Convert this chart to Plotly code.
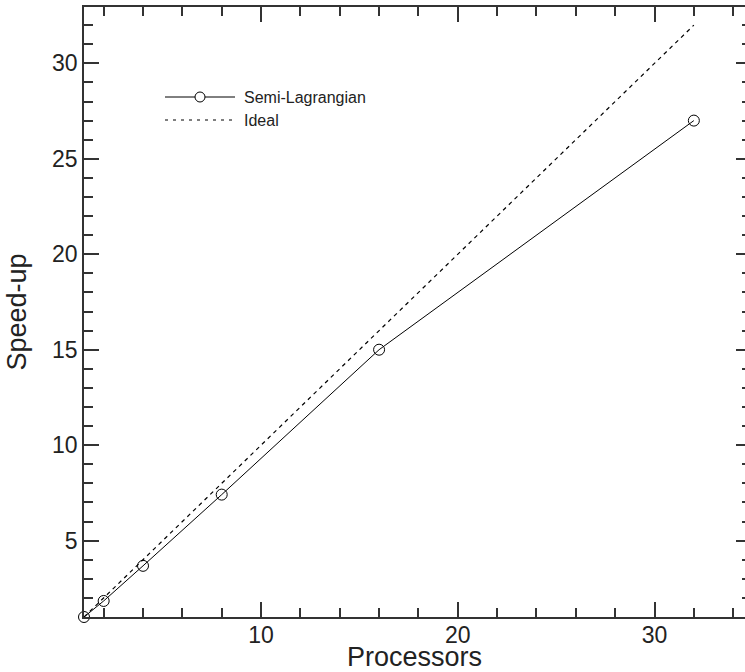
import plotly.graph_objects as go

# Parallel speed-up measurements
processors = [1, 2, 4, 8, 16, 32]
speedup_semi_lagrangian = [1.0, 1.84, 3.68, 7.41, 15.0, 27.0]
ideal_x = [1, 32]
ideal_y = [1, 32]

x_tickvals = [10, 20, 30]
y_tickvals = [5, 10, 15, 20, 25, 30]

FONT = "Liberation Sans, Arial, Helvetica, sans-serif"
INK = "#222222"
AXC = "#333333"
Y_RANGE = [1, 32.95]

fig = go.Figure()

fig.add_trace(go.Scatter(
    x=ideal_x, y=ideal_y, mode="lines", name="Ideal",
    line=dict(color="black", width=1.2, dash="4px,4px"),
    showlegend=False, cliponaxis=False,
))
fig.add_trace(go.Scatter(
    x=processors, y=speedup_semi_lagrangian, mode="lines+markers",
    name="Semi-Lagrangian",
    line=dict(color="black", width=1),
    marker=dict(symbol="circle-open", size=11, color="black", line=dict(width=1)),
    showlegend=False, cliponaxis=False,
))
# invisible helper trace that activates the right-hand tick axis
fig.add_trace(go.Scatter(x=[None], y=[None], yaxis="y2", showlegend=False,
                         hoverinfo="skip"))

tickfont = dict(family=FONT, size=23, color=INK)
titlefont = dict(family=FONT, size=27, color=INK)

fig.update_xaxes(
    range=[1, 34.6], tickvals=x_tickvals, automargin=False,
    showline=True, linecolor=AXC, linewidth=1.5, mirror="ticks",
    ticks="inside", tickcolor=AXC, tickwidth=1.5, ticklen=15,
    ticklabelstandoff=-3,
    showgrid=False, zeroline=False, tickfont=tickfont,
    minor=dict(ticks="inside", ticklen=9, dtick=2, tick0=0,
               tickcolor=AXC, tickwidth=1.5, showgrid=False),
    title=dict(text="Processors", font=titlefont, standoff=4),
)
fig.update_yaxes(
    range=Y_RANGE, tickvals=y_tickvals, automargin=False,
    showline=True, linecolor=AXC, linewidth=1.5, mirror=False,
    ticks="inside", tickcolor=AXC, tickwidth=1.5, ticklen=15,
    showgrid=False, zeroline=False, tickfont=tickfont,
    minor=dict(ticks="inside", ticklen=9, dtick=1, tick0=0,
               tickcolor=AXC, tickwidth=1.5, showgrid=False),
    title=dict(text="Speed-up", font=titlefont, standoff=18),
)

# Hand-drawn legend in the upper-left corner
legend_shapes = [
    dict(type="line", xref="paper", yref="paper",
         x0=(165 - 84) / 661, x1=(235 - 84) / 661,
         y0=(617 - 97) / 610, y1=(617 - 97) / 610,
         line=dict(color="black", width=1)),
    dict(type="circle", xref="paper", yref="paper",
         x0=(200 - 84 - 5) / 661, x1=(200 - 84 + 5) / 661,
         y0=(617 - 97 - 5) / 610, y1=(617 - 97 + 5) / 610,
         fillcolor="white", line=dict(color="black", width=1)),
    dict(type="line", xref="paper", yref="paper",
         x0=(165 - 84) / 661, x1=(235 - 84) / 661,
         y0=(617 - 120) / 610, y1=(617 - 120) / 610,
         line=dict(color="black", width=1.2, dash="3px,5px")),
]
legend_labels = ["Semi-Lagrangian", "Ideal"]
legend_rows = [97, 120]
annotations = [
    dict(text=lbl, xref="paper", yref="paper",
         x=(242 - 84) / 661, y=(617 - row) / 610,
         xanchor="left", yanchor="middle", showarrow=False,
         font=dict(family=FONT, size=16, color=INK))
    for lbl, row in zip(legend_labels, legend_rows)
]

fig.update_layout(
    width=745, height=672,
    margin=dict(l=84, r=0, t=7, b=55, autoexpand=False),
    paper_bgcolor="white", plot_bgcolor="white",
    shapes=legend_shapes, annotations=annotations,
    showlegend=False,
    yaxis2=dict(
        overlaying="y", side="right", range=Y_RANGE, tickvals=y_tickvals,
        showline=False, showticklabels=False, showgrid=False, zeroline=False,
        ticks="inside", tickcolor=AXC, tickwidth=1.5, ticklen=9,
        automargin=False,
        minor=dict(ticks="inside", ticklen=3, dtick=1, tick0=0,
                   tickcolor=AXC, tickwidth=1.5, showgrid=False),
    ),
)

fig.write_html("out.html")
